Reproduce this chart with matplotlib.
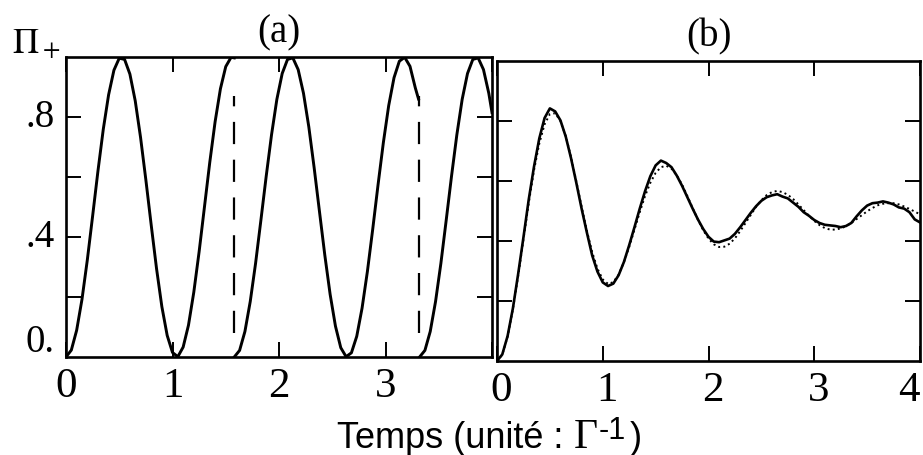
import numpy as np
import matplotlib
matplotlib.use('Agg')
import matplotlib.pyplot as plt
from matplotlib import transforms

plt.rcParams['font.family'] = ['Liberation Serif', 'DejaVu Serif']
plt.rcParams['mathtext.fontset'] = 'stix'

# ---- panel (a): single trajectory, Rabi oscillation interrupted by jumps ----
t_seg1 = np.append(np.arange(0, 1.56, 0.05), 1.58)
pi_seg1 = [0.000, 0.023, 0.089, 0.192, 0.323, 0.470, 0.620, 0.759, 0.874, 0.956,
           0.996, 0.992, 0.943, 0.854, 0.732, 0.590, 0.440, 0.295, 0.168, 0.072,
           0.015, 0.001, 0.033, 0.106, 0.216, 0.351, 0.500, 0.649, 0.784, 0.894,
           0.968, 0.999, 0.997]

t_seg2 = np.append(1.58 + np.arange(0, 1.71, 0.05), 3.31)
pi_seg2 = [0.000, 0.022, 0.085, 0.185, 0.312, 0.456, 0.603, 0.741, 0.859, 0.945,
           0.992, 0.997, 0.958, 0.879, 0.767, 0.631, 0.485, 0.340, 0.209, 0.103,
           0.031, 0.001, 0.014, 0.069, 0.163, 0.285, 0.426, 0.574, 0.715, 0.838,
           0.931, 0.986, 0.999, 0.969, 0.897, 0.860]

t_seg3 = np.append(3.32 + np.arange(0, 0.66, 0.05), 4.0)
pi_seg3 = [0.000, 0.022, 0.085, 0.185, 0.312, 0.456, 0.603, 0.741, 0.859, 0.945,
           0.992, 0.997, 0.958, 0.879, 0.815]

jump_t = [1.58, 3.31]
jump_span = (0.08, 0.87)   # visible extent of the dashed jump markers

# ---- panel (b): average over trajectories (solid) and theory (dotted) ----
t_b = np.arange(0, 4.001, 0.05)
pi_mc = [0.000, 0.022, 0.083, 0.175, 0.290, 0.412, 0.538, 0.648, 0.742, 0.810,
         0.842, 0.832, 0.802, 0.748, 0.676, 0.594, 0.508, 0.428, 0.352, 0.298,
         0.262, 0.250, 0.258, 0.286, 0.330, 0.386, 0.446, 0.508, 0.566, 0.616,
         0.652, 0.668, 0.660, 0.646, 0.618, 0.584, 0.546, 0.508, 0.472, 0.440,
         0.414, 0.398, 0.396, 0.402, 0.408, 0.424, 0.446, 0.470, 0.494, 0.516,
         0.534, 0.546, 0.552, 0.556, 0.548, 0.542, 0.528, 0.514, 0.496, 0.484,
         0.470, 0.460, 0.454, 0.452, 0.450, 0.446, 0.450, 0.460, 0.482, 0.502,
         0.518, 0.526, 0.528, 0.532, 0.528, 0.522, 0.512, 0.508, 0.496, 0.472,
         0.462]
pi_theory = [0.000, 0.021, 0.081, 0.172, 0.283, 0.405, 0.526, 0.636, 0.725, 0.789,
             0.823, 0.826, 0.800, 0.750, 0.680, 0.599, 0.515, 0.434, 0.363, 0.308,
             0.272, 0.257, 0.263, 0.288, 0.329, 0.380, 0.438, 0.496, 0.550, 0.594,
             0.627, 0.646, 0.651, 0.641, 0.619, 0.588, 0.550, 0.510, 0.471, 0.436,
             0.408, 0.389, 0.380, 0.381, 0.391, 0.409, 0.433, 0.460, 0.487, 0.514,
             0.536, 0.553, 0.563, 0.567, 0.563, 0.554, 0.540, 0.522, 0.503, 0.484,
             0.467, 0.453, 0.443, 0.438, 0.438, 0.442, 0.449, 0.460, 0.473, 0.486,
             0.499, 0.510, 0.519, 0.524, 0.526, 0.526, 0.522, 0.515, 0.507, 0.498,
             0.489]

x_ticks = [0, 1, 2, 3, 4]
x_labels_a = ['0', '1', '2', '3', '']
x_labels_b = ['0', '1', '2', '3', '4']
y_ticks = [0.2, 0.4, 0.6, 0.8]
y_label_vals = [0.0, 0.4, 0.8]
y_label_txt = ['0.', '.4', '.8']

W, H = 923, 456
fig = plt.figure(figsize=(W / 100, H / 100), dpi=100)


def px_axes(left, top, right, bottom):
    return fig.add_axes([left / W, (H - bottom) / H, (right - left) / W, (bottom - top) / H])


ax_a = px_axes(66, 58, 492, 358)
ax_b = px_axes(497, 62, 920, 362)

for ax in (ax_a, ax_b):
    ax.set_xlim(0, 4)
    ax.set_ylim(0, 1)
    ax.set_xticks(x_ticks)
    ax.set_yticks(y_ticks)
    ax.set_yticklabels([])
    ax.tick_params(direction='in', length=11, width=1.4, top=True, right=True,
                   labelsize=31, pad=7)
    for sp in ax.spines.values():
        sp.set_linewidth(1.9)

ax_a.set_xticklabels(x_labels_a)
ax_b.set_xticklabels(x_labels_b)
labs_b = ax_b.get_xticklabels()
for i, lab in enumerate(labs_b):
    dx = 4 if i < len(labs_b) - 1 else -11   # keep the last label inside the canvas
    lab.set_transform(lab.get_transform() +
                      transforms.ScaledTranslation(dx / 100, 0, fig.dpi_scale_trans))

# (a)
for t, p in ((t_seg1, pi_seg1), (t_seg2, pi_seg2), (t_seg3, pi_seg3)):
    ax_a.plot(t, p, color='black', lw=2.1)
ax_a.vlines(jump_t, jump_span[0], jump_span[1], color='black', lw=1.6,
            linestyles=[(0, (10, 7))])

blend = transforms.blended_transform_factory(ax_a.transAxes, ax_a.transData)
for v, s in zip(y_label_vals, y_label_txt):
    if v == 0:
        ax_a.text(-0.096, 0.02, s, ha='left', va='baseline', fontsize=28,
                  transform=blend)
    else:
        ax_a.text(-0.096, v, s, ha='left', va='center', fontsize=28,
                  transform=blend)
ax_a.text(-0.126, 1.017, r'$\Pi_+$', ha='left', va='baseline',
          fontsize=26, transform=blend)
ax_a.set_title('(a)', fontsize=28, pad=11)

# (b)
ax_b.plot(t_b, pi_theory, color='black', lw=1.4, ls=':')
ax_b.plot(t_b, pi_mc, color='black', lw=1.9)
ax_b.set_title('(b)', fontsize=28, pad=11)

# x label built from pieces: sans text, serif Gamma, sans superscript
pieces = [('Temps (unité :', 'Liberation Sans', 26, 0, 11),
          ('Γ', 'Liberation Serif', 30, 0, 1),
          ('-1', 'Liberation Sans', 22, 9, 3),
          (')', 'Liberation Sans', 26, 0, 0)]
renderer = fig.canvas.get_renderer()
ident = transforms.IdentityTransform()
base_y = H - 448
objs = []
x = 0.0
for s, fam, size, dy, gap in pieces:
    txt = fig.text(x, base_y + dy, s, family=fam, fontsize=size, ha='left',
                   va='baseline', transform=ident)
    w = txt.get_window_extent(renderer).width
    objs.append((txt, x))
    x += w + gap
x0 = 489 - x / 2
for txt, xp in objs:
    txt.set_x(x0 + xp)

fig.savefig('out.png', dpi=100)
